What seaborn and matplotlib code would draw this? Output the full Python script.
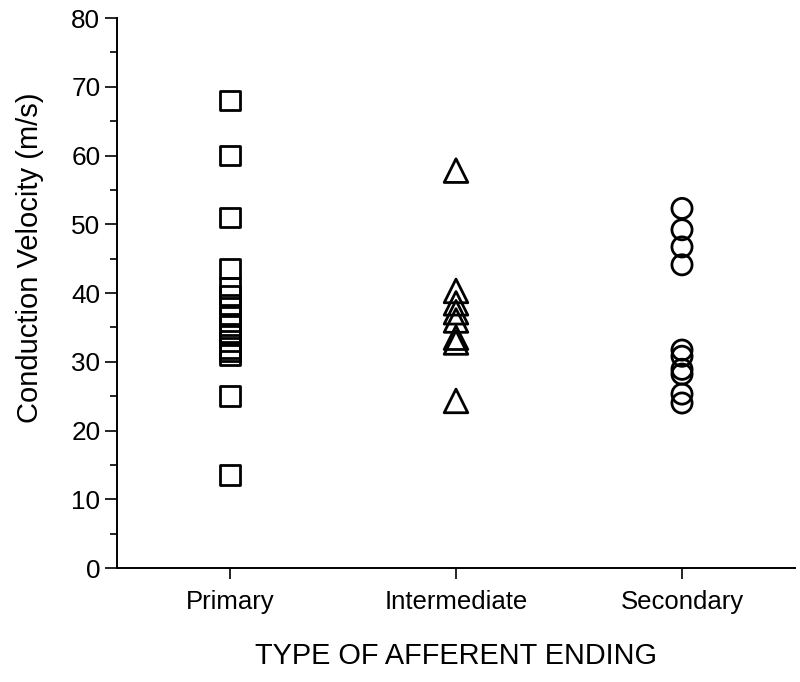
import matplotlib
matplotlib.use("Agg")
import matplotlib.pyplot as plt
from matplotlib.ticker import MultipleLocator
import seaborn as sns
import pandas as pd

categories = ["Primary", "Intermediate", "Secondary"]
primary = [68, 60, 51, 43.6, 40.7, 39.6, 38.3, 36.6, 35.3, 34.1, 33, 32, 31.5, 31, 25, 13.5]
intermediate = [57.8, 40.3, 38.5, 37.2, 36, 33.5, 32.8, 24.3]
secondary = [52.3, 49.2, 46.7, 44.1, 31.7, 30.8, 28.9, 28.2, 25.3, 24.0]
markers = {"Primary": "s", "Intermediate": "^", "Secondary": "o"}
msizes = {"Primary": 14, "Intermediate": 17, "Secondary": 14.5}

df = pd.DataFrame({
    "type": ["Primary"] * len(primary) + ["Intermediate"] * len(intermediate) + ["Secondary"] * len(secondary),
    "velocity": primary + intermediate + secondary,
})

sns.set_style("ticks", {"axes.edgecolor": "black", "xtick.color": "black",
                        "ytick.color": "black", "text.color": "black",
                        "axes.labelcolor": "black"})
plt.rcParams["font.family"] = ["Liberation Sans", "DejaVu Sans"]

fig = plt.figure(figsize=(8, 6.82), dpi=100)
ax = fig.add_axes([117 / 800, 1 - 568 / 682, (795 - 117) / 800, (568 - 18) / 682])

for cat in categories:
    sub = df[df["type"] == cat]
    sns.scatterplot(data=sub, x="type", y="velocity", marker=markers[cat],
                    s=msizes[cat] ** 2, color="black", linewidth=2.0,
                    legend=False, ax=ax)
for coll in ax.collections:
    coll.set_facecolor("none")
    coll.set_edgecolor("black")
    coll.set_linewidth(2.0)

ax.set_xlim(-0.5, 2.5)
ax.set_ylim(0, 80)
ax.yaxis.set_major_locator(MultipleLocator(10))
ax.yaxis.set_minor_locator(MultipleLocator(5))
ax.tick_params(axis="y", which="major", length=8.5, width=1.2, labelsize=18.8, pad=3.5,
               direction="out", colors="black")
ax.tick_params(axis="y", which="minor", length=5, width=1.2, direction="out", colors="black")
ax.tick_params(axis="x", which="major", length=8, width=1.2, labelsize=18.5, pad=8,
               direction="out", colors="black")
for s in ["right", "top"]:
    ax.spines[s].set_visible(False)
for s in ["left", "bottom"]:
    ax.spines[s].set_linewidth(1.4)
    ax.spines[s].set_color("black")

ax.set_xlabel("TYPE OF AFFERENT ENDING", fontsize=20.8, labelpad=20, color="black")
ax.set_ylabel("Conduction Velocity (m/s)", fontsize=21, color="black")
ax.yaxis.set_label_coords(-0.108, 0.5636)

fig.savefig("out.png", dpi=100)
